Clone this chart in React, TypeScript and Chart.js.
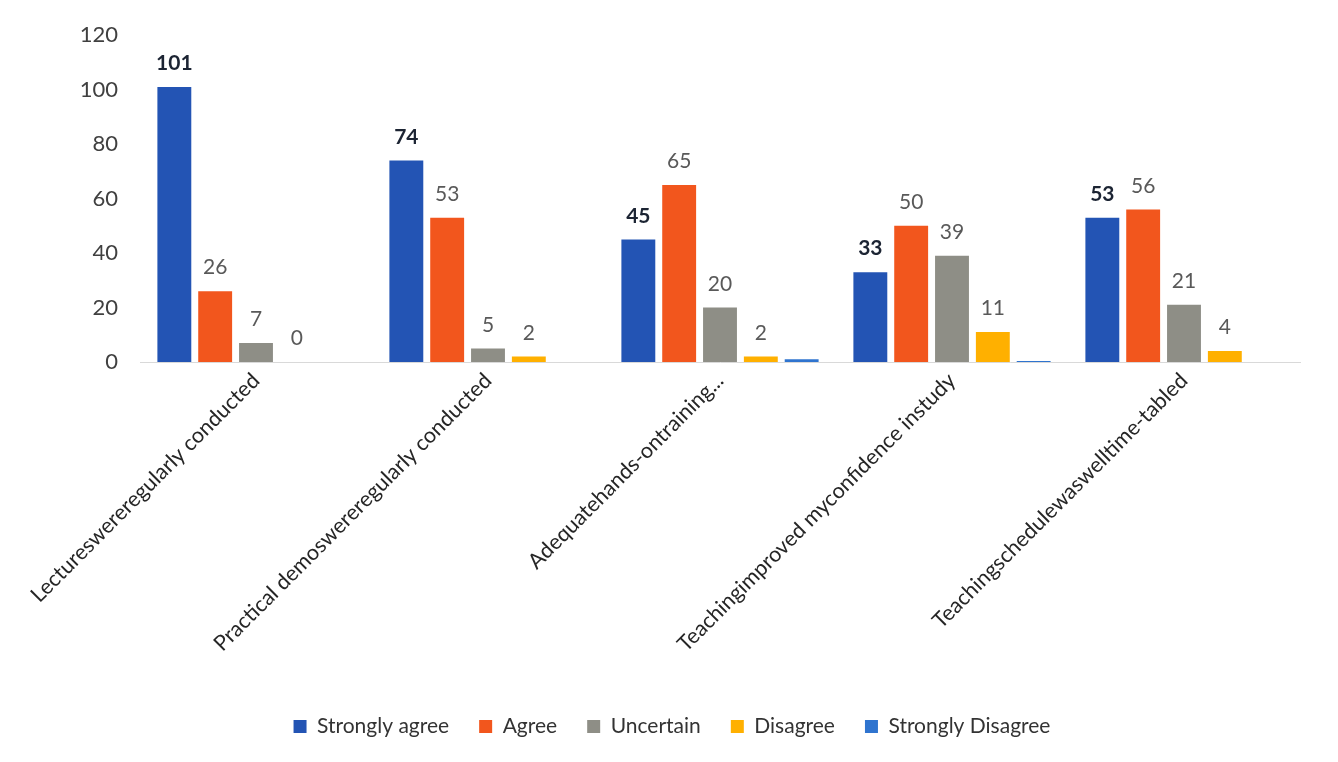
import React, { useEffect, useRef } from "react";
import { Chart, registerables } from "chart.js";

Chart.register(...registerables);

const categories = [
  "Lectureswereregularly conducted",
  "Practical demoswereregularly conducted",
  "Adequatehands-ontraining...",
  "Teachingimproved myconfidence instudy",
  "Teachingschedulewaswelltime-tabled",
];
const stronglyAgree = [101, 74, 45, 33, 53];
const agree = [26, 53, 65, 50, 56];
const uncertain = [7, 5, 20, 39, 21];
const disagree = [0, 2, 2, 11, 4];
const stronglyDisagree = [0, 0, 1, 0.4, 0];
const yTicks = [0, 20, 40, 60, 80, 100, 120];

const FONT = "Lato, 'Open Sans', sans-serif";

const labelPlugin = {
  id: "valueLabels",
  afterDatasetsDraw(chart: any) {
    const ctx = chart.ctx;
    ctx.save();
    ctx.textAlign = "center";
    ctx.textBaseline = "bottom";
    chart.data.datasets.forEach((ds: any, di: number) => {
      if (di > 3) return;
      const meta = chart.getDatasetMeta(di);
      meta.data.forEach((bar: any, i: number) => {
        const v = ds.data[i];
        ctx.font = (di === 0 ? "bold " : "") + "21px " + FONT;
        ctx.fillStyle = di === 0 ? "#1c2433" : "#595959";
        ctx.fillText(String(v), bar.x, bar.y - 13);
      });
    });
    ctx.restore();
  },
};

export default function App() {
  const ref = useRef<HTMLCanvasElement>(null);
  useEffect(() => {
    document.body.style.margin = "0";
    const chart = new Chart(ref.current!, {
      type: "bar",
      data: {
        labels: categories,
        datasets: [
          { label: "Strongly agree", data: stronglyAgree, backgroundColor: "#2354b4" },
          { label: "Agree", data: agree, backgroundColor: "#f2561d" },
          { label: "Uncertain", data: uncertain, backgroundColor: "#8e8e86" },
          { label: "Disagree", data: disagree, backgroundColor: "#ffb000" },
          { label: "Strongly Disagree", data: stronglyDisagree, backgroundColor: "#2f74cf" },
        ],
      },
      options: {
        animation: false,
        responsive: false,
        maintainAspectRatio: false,
        layout: { padding: { top: 34, right: 38, bottom: 15, left: 44 } },
        datasets: { bar: { categoryPercentage: 0.88, barPercentage: 0.83 } },
        plugins: {
          legend: {
            position: "bottom",
            labels: {
              font: { family: FONT, size: 21 },
              color: "#333333",
              boxWidth: 13,
              boxHeight: 13,
              padding: 30,
            },
          },
          tooltip: { enabled: false },
        },
        scales: {
          x: {
            grid: { display: false, drawTicks: false },
            border: { display: true, color: "#d9d9d9", width: 1 },
            ticks: {
              minRotation: 45,
              maxRotation: 45,
              autoSkip: false,
              padding: 6,
              color: "#262626",
              font: { family: FONT, size: 21.5 },
            },
            afterFit: (scale: any) => {
              scale.height = 324;
            },
          },
          y: {
            min: 0,
            max: 120,
            afterBuildTicks: (scale: any) => {
              scale.ticks = yTicks.map((v) => ({ value: v }));
            },
            grid: { display: false, drawTicks: false },
            border: { display: false },
            ticks: {
              padding: 22,
              color: "#404040",
              font: { family: FONT, size: 22 },
            },
            afterFit: (scale: any) => {
              scale.width = 96;
            },
          },
        },
      },
      plugins: [labelPlugin],
    });
    return () => chart.destroy();
  }, []);
  return (
    <div style={{ width: 1338, height: 762, background: "#fff" }}>
      <canvas ref={ref} width={1338} height={762} style={{ display: "block" }} />
    </div>
  );
}
